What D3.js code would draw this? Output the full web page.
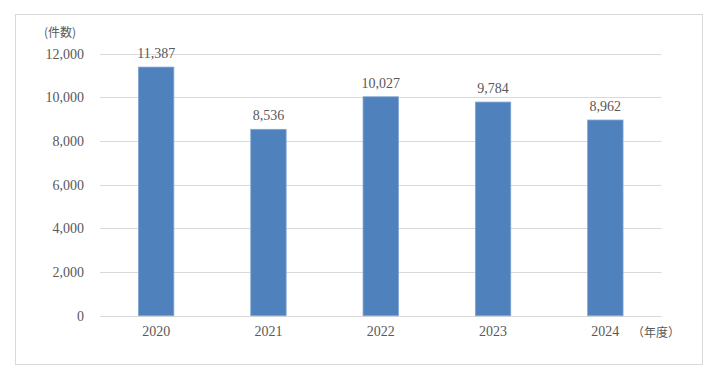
<!DOCTYPE html>
<html><head><meta charset="utf-8">
<script src="https://cdn.jsdelivr.net/npm/d3@7/dist/d3.min.js"></script>
<style>body{margin:0;background:#fff}</style>
</head><body>
<svg id="c" width="716" height="380"></svg>
<script>
const categories = ["2020","2021","2022","2023","2024"];
const values = [11387, 8536, 10027, 9784, 8962];
const yTicks = [0,2000,4000,6000,8000,10000,12000];

const svg = d3.select("#c");
const font = "'Liberation Serif','DejaVu Serif',serif";
const jfont = "'Noto Sans CJK JP','Noto Sans CJK SC',sans-serif";
const textColor = "#595959";

svg.append("rect").attr("x",15.5).attr("y",14.5).attr("width",687).attr("height",350)
  .attr("fill","#fff").attr("stroke","#d9d9d9").attr("stroke-width",1);

const x = d3.scaleBand().domain(categories).range([100,661.5]).paddingInner(0.685).paddingOuter(0.3425);
const y = d3.scaleLinear().domain([0,12000]).range([315.7,53.7]);

// gridlines
svg.append("g").selectAll("line").data(yTicks).join("line")
  .attr("x1",100).attr("x2",661.5)
  .attr("y1",d=>Math.round(y(d))+0.5).attr("y2",d=>Math.round(y(d))+0.5)
  .attr("stroke","#d9d9d9").attr("stroke-width",1);

// y axis labels
const yAxis = d3.axisLeft(y).tickValues(yTicks).tickSize(0).tickPadding(0)
  .tickFormat(d3.format(","));
const ga = svg.append("g").attr("transform","translate(84,0)").call(yAxis);
ga.select(".domain").remove();
ga.selectAll("text").attr("font-family",font).attr("font-size",14).attr("fill",textColor);

// bars
svg.append("g").selectAll("rect").data(values).join("rect")
  .attr("x",(d,i)=>x(categories[i])).attr("width",x.bandwidth())
  .attr("y",d=>y(d)).attr("height",d=>y(0)-y(d))
  .attr("fill","#4f81bd").attr("stroke","#7fa3d1").attr("stroke-width",0.8);

// value labels
svg.append("g").selectAll("text").data(values).join("text")
  .attr("x",(d,i)=>x(categories[i])+x.bandwidth()/2).attr("y",d=>y(d)-9)
  .attr("text-anchor","middle").attr("font-family",font).attr("font-size",14)
  .attr("fill",textColor).text(d=>d3.format(",")(d));

// x axis labels
const xAxis = d3.axisBottom(x).tickSize(0).tickPadding(0);
const gx = svg.append("g").attr("transform","translate(0,326)").call(xAxis);
gx.select(".domain").remove();
gx.selectAll("text").attr("font-family",font).attr("font-size",14).attr("fill",textColor);

// unit labels
svg.append("text").attr("x",44).attr("y",37).attr("font-family",jfont).attr("font-size",12)
  .attr("fill",textColor).text("(件数)");
svg.append("text").attr("x",632).attr("y",337).attr("font-family",jfont).attr("font-size",12)
  .attr("fill",textColor).text("（年度）");
</script>
</body></html>
